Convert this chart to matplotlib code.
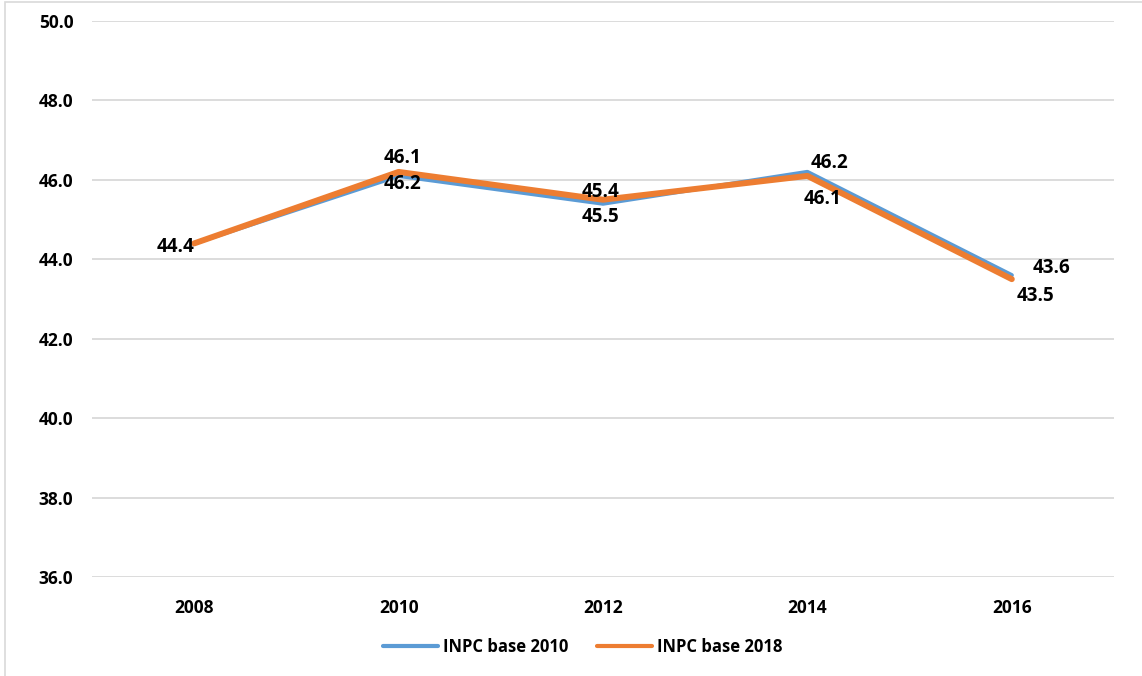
import matplotlib as mpl
mpl.use("Agg")
import matplotlib.pyplot as plt
from matplotlib.patches import Rectangle

years = ["2008", "2010", "2012", "2014", "2016"]
base2010 = [44.4, 46.1, 45.4, 46.2, 43.6]
base2018 = [44.4, 46.2, 45.5, 46.1, 43.5]

# label offsets in pixels (dx, dy)
off2010 = [(-19, -4), (4, 18), (-2, 12), (22, 9), (40, 7)]
off2018 = [(-19, -4), (4, -12), (-2, -17), (15, -23), (24, -17)]

plt.rcParams['font.family'] = ['Open Sans', 'DejaVu Sans']

fig = plt.figure(figsize=(11.42, 6.76), dpi=100)
ax = fig.add_axes([92 / 1142, 1 - 577 / 676, (1114 - 92) / 1142, (577 - 21) / 676])

x = list(range(len(years)))
ax.plot(x, base2010, color='#5b9bd5', lw=3.0, solid_capstyle='round', solid_joinstyle='round',
        label='INPC base 2010', zorder=3)
ax.plot(x, base2018, color='#ed7d31', lw=4.3, solid_capstyle='round', solid_joinstyle='round',
        label='INPC base 2018', zorder=4)

for i in range(len(years)):
    if i > 0:
        ax.annotate(f"{base2010[i]:.1f}", (x[i], base2010[i]), textcoords='offset pixels',
                    xytext=off2010[i], ha='center', va='center', fontsize=13.5,
                    fontweight='bold', color='black', zorder=5)
    ax.annotate(f"{base2018[i]:.1f}", (x[i], base2018[i]), textcoords='offset pixels',
                xytext=off2018[i], ha='center', va='center', fontsize=13.5,
                fontweight='bold', color='black', zorder=5)

ax.set_xlim(-0.5, len(years) - 0.5)
ax.set_ylim(36, 50)
ax.set_yticks([36, 38, 40, 42, 44, 46, 48, 50])
ax.set_yticklabels([f"{v:.1f}" for v in [36, 38, 40, 42, 44, 46, 48, 50]])
ax.set_xticks(x)
ax.set_xticklabels(years)
ax.grid(axis='y', color='#d9d9d9', lw=1.3)
ax.set_axisbelow(True)
for s in ax.spines.values():
    s.set_visible(False)
ax.tick_params(length=0, labelsize=12.5)
ax.tick_params(axis='y', pad=13.5)
ax.tick_params(axis='x', pad=16)
for t in ax.get_xticklabels() + ax.get_yticklabels():
    t.set_fontweight('bold')

leg = fig.legend(loc='center', bbox_to_anchor=(583 / 1142, 1 - 647 / 676), ncol=2,
                 frameon=False, handlelength=3.3, columnspacing=1.7,
                 handletextpad=0.3, prop={'weight': 'bold', 'size': 12})
for h in leg.get_lines():
    h.set_linewidth(3.0)

fig.patches.append(Rectangle((5 / 1142, -0.1), 1.2, 1 - 2 / 676 + 0.1, transform=fig.transFigure,
                             fill=False, edgecolor='#d9d9d9', lw=1.2))

fig.savefig("out.png", dpi=100)
